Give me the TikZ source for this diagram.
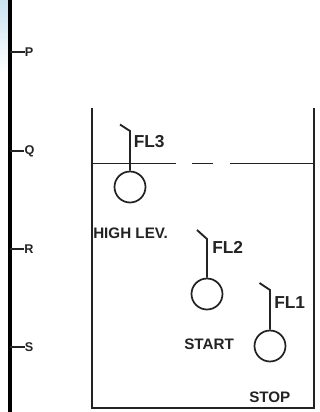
\documentclass[tikz,border=0pt]{standalone}
\usepackage{fontspec}
\setmainfont{Liberation Sans}
\usepackage{xcolor}
\usepackage{tikz}
\usetikzlibrary{positioning, calc}
\definecolor{mydark}{RGB}{35,35,35}
\definecolor{mypale}{RGB}{200,226,240}
\tikzset{
  float/.style={circle, draw=mydark, fill=white, minimum size=23.25pt, inner sep=0pt, line width=1.3pt},
  levtag/.style={font=\bfseries\fontsize{11.4pt}{12pt}\selectfont, color=mydark, inner sep=0pt},
  flag/.style={font=\fontsize{13pt}{14pt}\selectfont\bfseries, color=mydark, inner sep=0pt},
  ticklbl/.style={font=\bfseries\fontsize{9.5pt}{10pt}\selectfont, color=mydark, inner sep=0pt},
  line/.style={line width=1.4pt, color=mydark}
}
\begin{document}
\begin{tikzpicture}[x=0.75pt, y=-0.75pt]
\useasboundingbox (0,0) rectangle (320,412);
\fill[top color=mypale, bottom color=white] (0,0) rectangle (9,72);
% rail with its ticks
\coordinate (railtop) at (10,0);
\coordinate (railend) at (10,412);
\draw[line width=3pt, color=black] (railtop) -- (railend);
\node[ticklbl] (lblP) at (29,52) {P};
\node[ticklbl] (lblQ) at (29.5,151) {Q};
\node[ticklbl] (lblR) at (29,249) {R};
\node[ticklbl] (lblS) at (29,347) {S};
\foreach \n in {P,Q,R,S}
  \draw[line] (railtop |- lbl\n) -- (lbl\n.west);
% tank
\coordinate (tankTL) at (92,108);
\coordinate (tankBL) at (92,408);
\coordinate (tankBR) at (314,408);
\coordinate (tankTR) at (314,108);
\draw[line, line width=1.5pt] (tankTL) -- (tankBL) -- (tankBR) -- (tankTR);
% liquid level
\coordinate (levL) at (92,163.5);
\coordinate (levA) at (176,163.5);
\coordinate (levB) at (192,163.5);
\coordinate (levC) at (213,163.5);
\coordinate (levD) at (230,163.5);
\coordinate (levR) at (314,163.5);
\draw[line] (levL) -- (levA);
\draw[line] (levB) -- (levC);
\draw[line] (levD) -- (levR);
% FL3
\node[float] (fl3) at (130,187) {};
\coordinate (fl3bend) at (130,131);
\coordinate (fl3tip) at (120,124.5);
\draw[line] (fl3) -- (fl3bend) -- (fl3tip);
\node[flag, anchor=west] (fl3lbl) at (133.5,142) {FL3};
% FL2
\node[float] (fl2) at (207,294) {};
\coordinate (fl2bend) at (207,239);
\coordinate (fl2tip) at (197,230);
\draw[line] (fl2) -- (fl2bend) -- (fl2tip);
\node[flag, anchor=west] (fl2lbl) at (212,247) {FL2};
% FL1
\node[float] (fl1) at (270,346) {};
\coordinate (fl1bend) at (270,290);
\coordinate (fl1tip) at (259.5,283);
\draw[line] (fl1) -- (fl1bend) -- (fl1tip);
\node[flag, anchor=west] (fl1lbl) at (274,303) {FL1};
% level names
\node[levtag, anchor=west] (high) at (93,233) {HIGH LEV.};
\node[levtag, anchor=west] (start) at (184,344) {START};
\node[levtag, anchor=west] (stop) at (249,397) {STOP};
\end{tikzpicture}
\end{document}
